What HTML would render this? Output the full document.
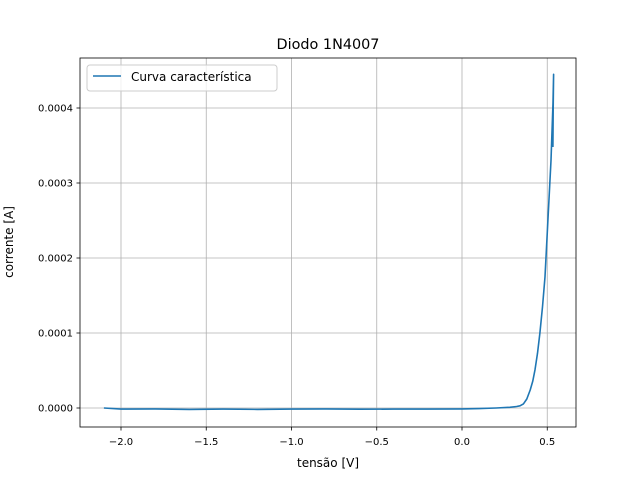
<!DOCTYPE html>
<html><head><meta charset="utf-8"><style>
body{margin:0;background:#fff;font-family:"Liberation Sans","DejaVu Sans",sans-serif}
svg text{font-family:"DejaVu Sans","Liberation Sans",sans-serif;fill:#000}
</style></head><body>
<svg width="640" height="480" xmlns="http://www.w3.org/2000/svg">
<rect width="640" height="480" fill="#fff"/>
<g id="grid"></g>
<g id="ticks"></g>
<path id="curve" fill="none" stroke="#1f77b4" stroke-width="1.6" stroke-linejoin="round"/>
<rect x="80" y="58" width="496" height="369" fill="none" stroke="#000" stroke-width="0.8"/>
<text x="328" y="49" font-size="14.4" text-anchor="middle">Diodo 1N4007</text>
<text x="328" y="467" font-size="12" text-anchor="middle">tensão [V]</text>
<text transform="translate(13,242) rotate(-90)" font-size="12" text-anchor="middle">corrente [A]</text>
<g>
<rect x="87" y="65" width="190" height="26" rx="3" fill="#fff" fill-opacity="0.8" stroke="#ccc"/>
<line x1="93" y1="76" x2="121" y2="76" stroke="#1f77b4" stroke-width="1.5"/>
<text x="131" y="81" font-size="12">Curva característica</text>
</g>
</svg>
<script>
const voltages=[-2.1,-2.0,-1.8,-1.6,-1.4,-1.2,-1.0,-0.8,-0.6,-0.4,-0.2,0.0,0.1,0.2,0.28,0.32,0.34,0.36,0.38,0.4,0.415,0.428,0.443,0.457,0.472,0.487,0.504,0.522,0.534,0.537,0.535,0.533];
const currents=[0,-1.5e-6,-1.2e-6,-1.8e-6,-1.5e-6,-1.8e-6,-1.5e-6,-1.2e-6,-1.6e-6,-1.4e-6,-1.5e-6,-1.2e-6,-0.8e-6,0,1e-6,2e-6,3e-6,5.5e-6,1.2e-5,2.4e-5,3.6e-5,5.1e-5,7.3e-5,1.0e-4,1.35e-4,1.75e-4,2.5e-4,3.3e-4,4.07e-4,4.45e-4,4.0e-4,3.48e-4];
const xTicks=[-2.0,-1.5,-1.0,-0.5,0.0,0.5];
const xLabels=["−2.0","−1.5","−1.0","−0.5","0.0","0.5"];
const yTicks=[0,0.0001,0.0002,0.0003,0.0004];
const yLabels=["0.0000","0.0001","0.0002","0.0003","0.0004"];
const X=v=>462+v*341/2, Y=i=>408-i*750000;
const NS="http://www.w3.org/2000/svg";
const grid=document.getElementById('grid'),ticks=document.getElementById('ticks');
function mk(tag,a,parent){const e=document.createElementNS(NS,tag);for(const k in a)e.setAttribute(k,a[k]);parent.appendChild(e);return e;}
xTicks.forEach((v,k)=>{const x=X(v);
 const g=mk('line',{x1:x,x2:x,y1:58,y2:427,stroke:'#b0b0b0','stroke-width':0.8},grid);
 
 
 mk('line',{x1:x,x2:x,y1:427,y2:430.5,stroke:'#000','stroke-width':0.8},ticks);
 const t=mk('text',{x:x,y:445,'font-size':10,'text-anchor':'middle'},ticks);t.textContent=xLabels[k];
 
 });
yTicks.forEach((v,k)=>{const y=Y(v);
 const g=mk('line',{x1:80,x2:576,y1:y,y2:y,stroke:'#b0b0b0','stroke-width':0.8},grid);
 
 
 mk('line',{x1:76.5,x2:80,y1:y,y2:y,stroke:'#000','stroke-width':0.8},ticks);
 const t=mk('text',{x:73,y:y+3.5,'font-size':10,'text-anchor':'end'},ticks);t.textContent=yLabels[k];
 
 });
document.getElementById('curve').setAttribute('d',voltages.map((v,i)=>(i?'L':'M')+X(v).toFixed(1)+','+Y(currents[i]).toFixed(1)).join(''));
</script>
</body></html>
